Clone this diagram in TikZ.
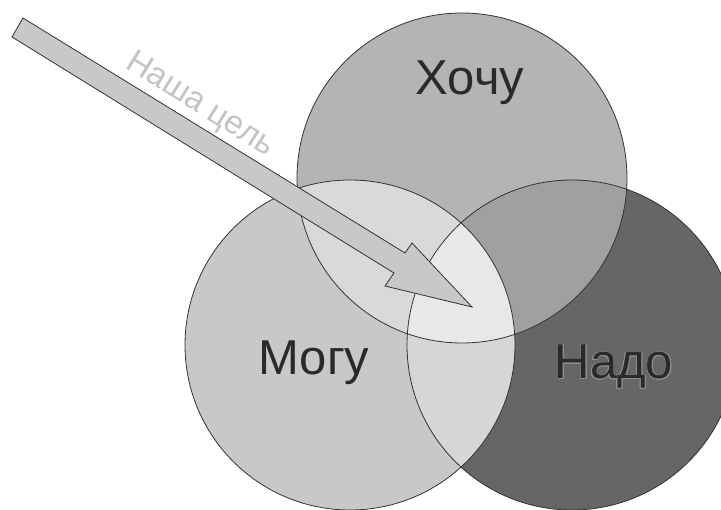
\documentclass[tikz,border=0pt]{standalone}
\usepackage{fontspec}
\setmainfont{Liberation Sans}
\usepackage{contour}
\contourlength{0.7pt}
\definecolor{cK}{HTML}{B4B4B4}
\definecolor{cM}{HTML}{C8C8C8}
\definecolor{cN}{HTML}{666666}
\definecolor{cKN}{HTML}{A0A0A0}
\definecolor{cKM}{HTML}{D9D9D9}
\definecolor{cMN}{HTML}{D6D6D6}
\definecolor{cAll}{HTML}{E8E8E8}
\definecolor{cArrow}{HTML}{C8C8C8}
\definecolor{cLine}{HTML}{333333}
\definecolor{cText}{HTML}{2A2A2A}
\definecolor{cHalo}{HTML}{8E8E8E}
\definecolor{cGoal}{HTML}{C4C4C4}
\tikzset{
  ring/.style={draw=cLine, line width=0.8pt},
  setlabel/.style={text=cText, font=\fontsize{49}{54}\selectfont, inner sep=0pt, anchor=base},
  goallabel/.style={text=cGoal, font=\fontsize{33}{36}\selectfont, inner sep=0pt, rotate=-32},
  bigarrow/.style={fill=cArrow, draw=cLine, line width=0.8pt, line join=miter}
}
\begin{document}
\begin{tikzpicture}[x=1pt,y=-1pt]
\useasboundingbox (0,0) rectangle (721,510);
\clip (0,0) rectangle (721,510);
\coordinate (cK) at (462,178);
\coordinate (cM) at (350,345);
\coordinate (cN) at (572,345);
% base fills
\fill[cK] (cK) circle (165pt);
\fill[cM] (cM) circle (165pt);
\fill[cN] (cN) circle (165pt);
% pairwise intersections
\begin{scope}
  \clip (cK) circle (165pt);
  \fill[cKN] (cN) circle (165pt);
  \fill[cKM] (cM) circle (165pt);
\end{scope}
\begin{scope}
  \clip (cM) circle (165pt);
  \fill[cMN] (cN) circle (165pt);
  \clip (cN) circle (165pt);
  \fill[cAll] (cK) circle (165pt);
\end{scope}
% outlines
\draw[ring] (cK) circle (165pt);
\draw[ring] (cM) circle (165pt);
\draw[ring] (cN) circle (165pt);
% labels
\node[setlabel] (khochu) at (470,95) {Хочу};
\node[setlabel] (mogu) at (314,375) {Могу};
\node[setlabel] (nado) at (614,379) {\contour{cHalo}{Надо}};
% arrow
\coordinate (a1) at (23,18);
\coordinate (a2) at (405,253);
\coordinate (a3) at (412,243);
\coordinate (tip) at (472,307);
\coordinate (a4) at (385,286);
\coordinate (a5) at (394,273);
\coordinate (a6) at (12,37);
\draw[bigarrow] (a1) -- (a2) -- (a3) -- (tip) -- (a4) -- (a5) -- (a6) -- cycle;
\node[goallabel] (goal) at (200,105) {Наша цель};
\end{tikzpicture}
\end{document}
